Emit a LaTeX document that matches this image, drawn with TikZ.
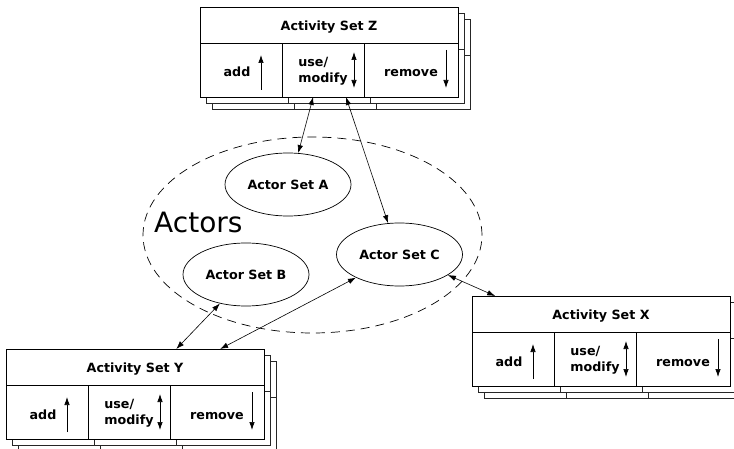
\documentclass[tikz,border=0pt]{standalone}
\usepackage{fontspec}
\setmainfont{DejaVu Sans}
\usetikzlibrary{arrows.meta,calc,shapes.geometric}
\tikzset{
  lbl/.style={font=\bfseries\fontsize{12.7}{16.5}\selectfont, inner sep=0pt},
  box/.style={draw, line width=0.9pt, fill=white, inner sep=0pt, outer sep=0pt},
  shadowline/.style={draw=black!85, line width=0.8pt, fill=white},
  conn/.style={{Latex[length=8pt,width=5.5pt]}-{Latex[length=8pt,width=5.5pt]}, line width=0.6pt},
  cellarrow/.style={-{Latex[length=8pt,width=5.5pt]}, line width=0.7pt},
  cellarrowtwo/.style={{Latex[length=8pt,width=5.5pt]}-{Latex[length=8pt,width=5.5pt]}, line width=0.7pt},
  actor/.style={draw, ellipse, line width=0.7pt, minimum width=126pt, minimum height=63pt, inner sep=0pt, fill=white, lbl},
}
\newcommand\actset[4]{%
  \foreach \o in {12,6}{%
    \draw[shadowline] ({#2+\o},{#3+\o}) rectangle ({#2+\o+258},{#3+\o+90});
    \draw[shadowline] ({#2+\o},{#3+\o+36}) -- ({#2+\o+258},{#3+\o+36});
    \draw[shadowline] ({#2+\o+82},{#3+\o+36}) -- ({#2+\o+82},{#3+\o+90});
    \draw[shadowline] ({#2+\o+164},{#3+\o+36}) -- ({#2+\o+164},{#3+\o+90});
  }
  \node[box, minimum width=258pt, minimum height=36pt, anchor=north west] (#1T) at (#2,#3) {};
  \node[lbl, anchor=base] (#1Tt) at ($(#1T.north)+(0,23.5)$) {Activity Set #4};
  \node[box, minimum width=82pt, minimum height=54pt, anchor=north west] (#1A) at (#1T.south west) {};
  \node[box, minimum width=82pt, minimum height=54pt, anchor=north west] (#1U) at (#1A.north east) {};
  \node[box, minimum width=94pt, minimum height=54pt, anchor=north west] (#1R) at (#1U.north east) {};
  \node[lbl, anchor=base] (#1At) at ($(#1A.north west)+(37,34)$) {add};
  \draw[cellarrow] ($(#1A.north west)+(61,47)$) -- ($(#1A.north west)+(61,12)$);
  \node[lbl, align=left] (#1Ut) at ($(#1U.north west)+(41,28)$) {use/\\modify};
  \draw[cellarrowtwo] ($(#1U.north west)+(72,45)$) -- ($(#1U.north west)+(72,9)$);
  \node[lbl, anchor=base] (#1Rt) at ($(#1R.north west)+(47,34)$) {remove};
  \draw[cellarrow] ($(#1R.north west)+(82,7)$) -- ($(#1R.north west)+(82,45)$);
}
\begin{document}
\begin{tikzpicture}[x=1pt, y=-1pt]
  \clip (0,0) rectangle (734,449);
  \fill[white] (0,0) rectangle (734,449);
  % actors group
  \node[draw, ellipse, dash pattern=on 9pt off 6pt, line width=0.7pt,
        minimum width=339pt, minimum height=196pt, inner sep=0pt] (grp) at (312.5,235) {};
  \node[font=\fontsize{28}{30}\selectfont, anchor=base west, inner sep=0pt] (actlbl) at (154,233) {Actors};
  \node[actor] (A) at (288,184.5) {Actor Set A};
  \node[actor] (B) at (246,274.5) {Actor Set B};
  \node[actor] (C) at (399.5,254.5) {Actor Set C};
  % activity sets
  \actset{Z}{200}{7}{Z}
  \actset{X}{472}{296}{X}
  \actset{Y}{6}{349}{Y}
  % connectors
  \draw[conn] ($(ZU.south west)!0.38!(ZU.south east)$) -- (A.72);
  \draw[conn] ($(ZU.south west)!0.78!(ZU.south east)$) -- (C.110);
  \draw[conn] (C.-23) -- ($(XT.north west)!0.09!(XT.north east)$);
  \draw[conn] (C.208) -- ($(YT.north west)!0.83!(YT.north east)$);
  \draw[conn] (B.228) -- ($(YT.north west)!0.66!(YT.north east)$);
\end{tikzpicture}
\end{document}
